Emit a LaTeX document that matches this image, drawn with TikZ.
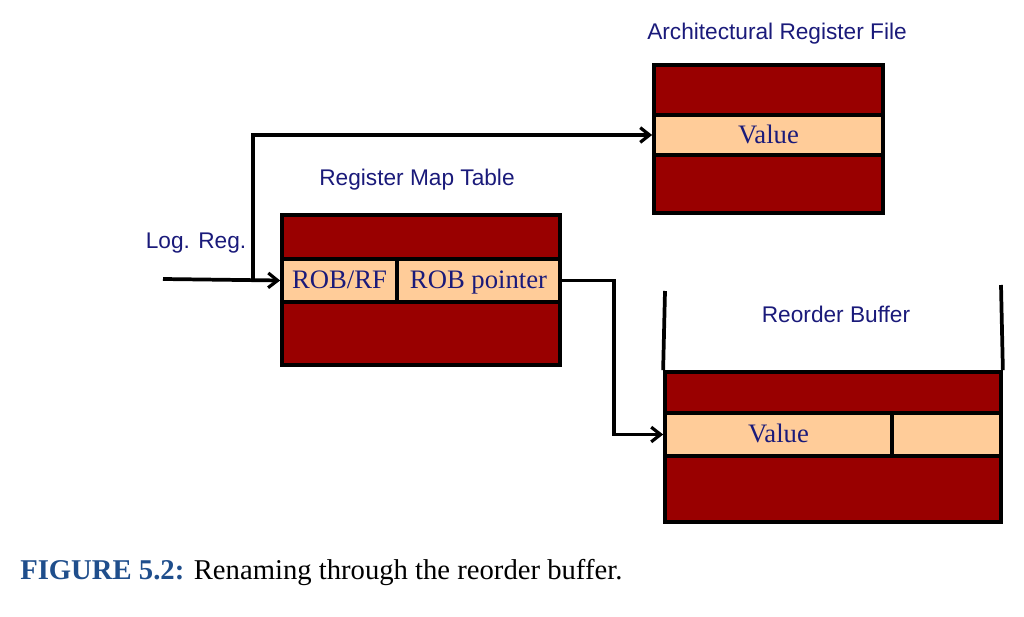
\documentclass[tikz,border=0pt]{standalone}
\usepackage{fontspec}
\setmainfont{Liberation Serif}
\newfontfamily\labfont{Liberation Sans}
\usetikzlibrary{arrows.meta,fit}
\definecolor{darkred}{HTML}{990000}
\definecolor{peach}{HTML}{FFCC99}
\definecolor{navy}{HTML}{1A1A7A}
\definecolor{capblue}{HTML}{1F4E8C}
\begin{document}
\begin{tikzpicture}[x=0.75pt,y=-0.75pt,
 dark/.style={fill=darkred,draw=black,line width=2.8pt,inner sep=0pt},
 cell/.style={fill=peach,draw=black,line width=2.8pt,inner sep=0pt},
 ctext/.style={font=\fontsize{20}{24}\selectfont,text=navy,text height=14pt,text depth=2pt},
 lbl/.style={font=\labfont\fontsize{17}{20}\selectfont,text=navy},
 wall/.style={line width=2.8pt},
 conn/.style={line width=2.8pt,-{Straight Barb[length=7pt,width=11pt,line width=2.4pt]}}]
\useasboundingbox (0,0) rectangle (1024,617);
% Architectural register file
\node[dark,fit={(654,65) (883,213)}] (arf) {};
\node[cell,fit={(654,115) (883,155)}] (arfrow) {};
\node[ctext] at (arfrow.center) {Value};
\node[lbl] (arflbl) at (777,34) {Architectural Register File};
% Register map table
\node[dark,fit={(282,215) (560,365)}] (rmt) {};
\node[cell,fit={(282,259) (397,302)}] (rrf) {};
\node[cell,fit={(397,259) (560,302)}] (rptr) {};
\node[ctext] at (rrf.center) {ROB/RF};
\node[ctext] at (rptr.center) {ROB pointer};
\node[lbl] (rmtlbl) at (417,180) {Register Map Table};
\node[lbl] (loglbl) at (196,243) {Log. Reg.};
% Reorder buffer
\node[dark,fit={(665,372) (1001,522)}] (rob) {};
\node[cell,fit={(665,413) (892,456)}] (robval) {};
\node[cell,fit={(892,413) (1001,456)}] (robx) {};
\node[ctext] at (robval.center) {Value};
\coordinate (wl) at (665,291);
\coordinate (wr) at (1001,285);
\draw[wall] (wl) -- (rob.north west);
\draw[wall] (wr) -- (rob.north east);
\node[lbl] (roblbl) at (836,314) {Reorder Buffer};
% connectors
\coordinate (in) at (163,279);
\coordinate (br) at (253,279);
\draw[conn] (in) -- (rrf.west);
\draw[conn] (br) |- (arfrow.west);
\draw[conn] (rptr.east) -- ++(52,0) |- (robval.west);
% caption
\node[anchor=base west,inner sep=0pt,font=\fontsize{21.5}{26}\selectfont] (cap) at (20,579)
 {\textcolor{capblue}{\bfseries FIGURE 5.2:} Renaming through the reorder buffer.};
\end{tikzpicture}
\end{document}
